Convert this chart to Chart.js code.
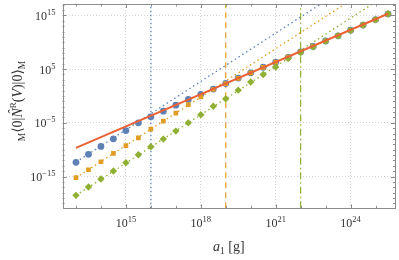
<!DOCTYPE html>
<html>
<head>
<meta charset="utf-8">
<script src="https://cdn.jsdelivr.net/npm/chart.js@4/dist/chart.umd.min.js"></script>
<style>
  html, body { margin: 0; padding: 0; background: #fff; }
</style>
</head>
<body>
<canvas id="myChart" width="399" height="260"></canvas>
<script>
// masses a_1 as powers of ten (half-decade steps)
const massExp = [13, 13.5, 14, 14.5, 15, 15.5, 16, 16.5, 17, 17.5, 18, 18.5, 19,
  19.5, 20, 20.5, 21, 21.5, 22, 22.5, 23, 23.5, 24, 24.5, 25, 25.5];

// log10 of the expectation value
const blueExp = [-12.36, -10.87, -9.39, -7.97, -6.45, -5.0, -3.88, -2.83, -1.71, -0.65,
  0.3, 1.28, 2.32, 3.34, 4.3, 5.35, 6.3, 7.2, 8.22, 9.22, 10.24, 11.2, 12.24, 13.2, 14.22, 15.28];
const orangeExp = [-15.2, -13.74, -12.25, -10.69, -9.23, -7.79, -6.17, -4.68, -3.2, -1.6,
  -0.17, 1.2, 2.3, 3.28, 4.3, 5.32, 6.3, 7.22, 8.22, 9.22, 10.24, 11.2, 12.24, 13.2, 14.22, 15.28];
const greenExp = [-18.5, -16.95, -15.46, -13.98, -12.43, -10.95, -9.46, -8.03, -6.54, -5.0,
  -3.5, -1.9, -0.54, 1.08, 2.6, 4.0, 5.4, 6.97, 8.08, 9.13, 10.2, 11.2, 12.2, 13.2, 14.2, 15.25];

// straight reference lines (end points, log10)
const redLineX = [13, 25.5];
const redLineY = [-9.65, 15.3];
const fitX = [13, 25.5];
const blueFitY = [-12.3, 25.2];
const orangeFitY = [-15.2, 22.3];
const greenFitY = [-18.5, 19.0];

// vertical cut-offs
const cutoffExp = [16, 19, 22];

// tick labels
const xTickExp = [15, 18, 21, 24];
const yTickExp = [-15, -5, 5, 15];

const xRange = [12.46, 25.78];
const yRange = [-20.91, 17.12];

const BLUE = "#5E81B5";
const ORANGE = "#E19C24";
const GREEN = "#8FB032";
const RED = "#EB6235";

const pts = (xs, ys) => xs.map((e, i) => ({ x: Math.pow(10, e), y: Math.pow(10, ys[i]) }));
const vline = (e) => [
  { x: Math.pow(10, e), y: Math.pow(10, yRange[0]) },
  { x: Math.pow(10, e), y: Math.pow(10, yRange[1]) },
];

const SERIF = "'Liberation Serif', 'DejaVu Serif', serif";

// frame, inward ticks, tick labels and axis titles
const decorations = {
  id: "decorations",
  afterDraw(chart) {
    const { ctx, chartArea: a, scales } = chart;
    const xs = scales.x, ys = scales.y;
    ctx.save();
    ctx.strokeStyle = "#8c8c8c";
    ctx.lineWidth = 1;
    ctx.strokeRect(Math.round(a.left) + 0.5, Math.round(a.top) + 0.5,
      Math.round(a.right - a.left) - 1, Math.round(a.bottom - a.top));

    ctx.beginPath();
    for (let e = 13; e <= 25; e++) {
      const px = Math.round(xs.getPixelForValue(Math.pow(10, e))) + 0.5;
      const len = xTickExp.includes(e) ? 4 : 2.5;
      ctx.moveTo(px, a.bottom); ctx.lineTo(px, a.bottom - len);
      ctx.moveTo(px, a.top); ctx.lineTo(px, a.top + len);
    }
    for (let e = -20; e <= 17; e++) {
      const py = Math.round(ys.getPixelForValue(Math.pow(10, e))) + 0.5;
      const len = yTickExp.includes(e) ? 4 : 2;
      ctx.moveTo(a.left, py); ctx.lineTo(a.left + len, py);
      ctx.moveTo(a.right, py); ctx.lineTo(a.right - len, py);
    }
    ctx.stroke();

    ctx.fillStyle = "#333";
    ctx.textBaseline = "alphabetic";
    ctx.textAlign = "left";
    const expText = (e) => (e < 0 ? "\u2212" + (-e) : String(e));
    xTickExp.forEach((e) => {
      const px = xs.getPixelForValue(Math.pow(10, e));
      ctx.font = "12px " + SERIF;
      const w1 = ctx.measureText("10").width;
      ctx.font = "8.5px " + SERIF;
      const w2 = ctx.measureText(expText(e)).width;
      const x0 = px - (w1 + w2) / 2;
      ctx.font = "12px " + SERIF;
      ctx.fillText("10", x0, 227);
      ctx.font = "8.5px " + SERIF;
      ctx.fillText(expText(e), x0 + w1, 221.5);
    });
    yTickExp.forEach((e) => {
      const py = ys.getPixelForValue(Math.pow(10, e));
      ctx.font = "8.5px " + SERIF;
      const w2 = ctx.measureText(expText(e)).width;
      ctx.font = "12px " + SERIF;
      const w1 = ctx.measureText("10").width;
      const x0 = 55.5 - w1 - w2;
      ctx.fillText("10", x0, py + 4.5);
      ctx.font = "8.5px " + SERIF;
      ctx.fillText(expText(e), x0 + w1, py - 0.5);
    });

    // x title: a_1 [g]
    const xParts = [
      { t: "a", f: "italic 14px", dy: 0 },
      { t: "1", f: "9.5px", dy: 3 },
      { t: " [g]", f: "14px", dy: 0 },
    ];
    drawParts(ctx, xParts, (a.left + a.right) / 2, 251);

    // y title: M<0|N^R(V)|0>_M, rotated
    ctx.save();
    ctx.translate(22, 101);
    ctx.rotate(-Math.PI / 2);
    const yParts = [
      { t: "M", f: "9.5px", dy: 3 },
      { t: "\u27E80|", f: "14px", dy: 0 },
      { t: "N", f: "italic 14px", dy: 0, hat: true },
      { t: "R", f: "9px", dy: -6 },
      { t: "(", f: "14px", dy: 0 },
      { t: "V", f: "italic 14px", dy: 0 },
      { t: ")|0\u27E9", f: "14px", dy: 0 },
      { t: "M", f: "9.5px", dy: 3 },
    ];
    drawParts(ctx, yParts, 0, 0);
    ctx.restore();
    ctx.restore();
  },
};

function drawParts(ctx, parts, cx, baseY) {
  let total = 0;
  parts.forEach((p) => {
    ctx.font = p.f + " " + SERIF;
    p.w = ctx.measureText(p.t).width;
    total += p.w;
  });
  let x = cx - total / 2;
  parts.forEach((p) => {
    ctx.font = p.f + " " + SERIF;
    ctx.fillText(p.t, x, baseY + p.dy);
    if (p.hat) ctx.fillText("\u02C6", x + p.w * 0.3, baseY - 4);
    x += p.w;
  });
}

const ctx = document.getElementById("myChart");

new Chart(ctx, {
  type: "line",
  data: {
    datasets: [
      {
        data: pts(redLineX, redLineY),
        borderColor: RED, borderWidth: 2, pointRadius: 0, order: 0,
      },
      {
        data: pts(massExp, blueExp),
        showLine: false, pointStyle: "circle", pointRadius: 3.4,
        pointBackgroundColor: BLUE, pointBorderWidth: 0, order: 3,
      },
      {
        data: pts(massExp, orangeExp),
        showLine: false, pointStyle: "rect", pointRadius: 3.3,
        pointBackgroundColor: ORANGE, pointBorderWidth: 0, order: 2,
      },
      {
        data: pts(massExp, greenExp),
        showLine: false, pointStyle: "rectRot", pointRadius: 3.7,
        pointBackgroundColor: GREEN, pointBorderWidth: 0, order: 1,
      },
      {
        data: pts(fitX, blueFitY),
        borderColor: BLUE, borderWidth: 1.3, borderDash: [1.5, 3], pointRadius: 0, order: 5,
      },
      {
        data: pts(fitX, orangeFitY),
        borderColor: ORANGE, borderWidth: 1.3, borderDash: [1.5, 3], pointRadius: 0, order: 5,
      },
      {
        data: pts(fitX, greenFitY),
        borderColor: GREEN, borderWidth: 1.3, borderDash: [1.5, 3], pointRadius: 0, order: 5,
      },
      {
        data: vline(cutoffExp[0]),
        borderColor: BLUE, borderWidth: 1.3, borderDash: [1.5, 2.5], pointRadius: 0, order: 6,
      },
      {
        data: vline(cutoffExp[1]),
        borderColor: ORANGE, borderWidth: 1.2, borderDash: [6, 4], pointRadius: 0, order: 6,
      },
      {
        data: vline(cutoffExp[2]),
        borderColor: GREEN, borderWidth: 1.2, borderDash: [7, 3, 1.5, 3], pointRadius: 0, order: 6,
      },
    ],
  },
  options: {
    responsive: false,
    animation: false,
    layout: { padding: { left: 62.5, top: 3.7, right: 3.5, bottom: 51.7 } },
    plugins: { legend: { display: false }, tooltip: { enabled: false } },
    scales: {
      x: {
        type: "logarithmic",
        min: Math.pow(10, xRange[0]),
        max: Math.pow(10, xRange[1]),
        afterBuildTicks: (s) => { s.ticks = xTickExp.map((e) => ({ value: Math.pow(10, e) })); },
        ticks: { display: false },
        grid: { color: "#d4d4d4", lineWidth: 1, drawTicks: false },
        border: { display: false, dash: [1, 2] },
      },
      y: {
        type: "logarithmic",
        min: Math.pow(10, yRange[0]),
        max: Math.pow(10, yRange[1]),
        afterBuildTicks: (s) => { s.ticks = yTickExp.map((e) => ({ value: Math.pow(10, e) })); },
        ticks: { display: false },
        grid: { color: "#d4d4d4", lineWidth: 1, drawTicks: false },
        border: { display: false, dash: [1, 2] },
      },
    },
  },
  plugins: [decorations],
});
</script>
</body>
</html>
